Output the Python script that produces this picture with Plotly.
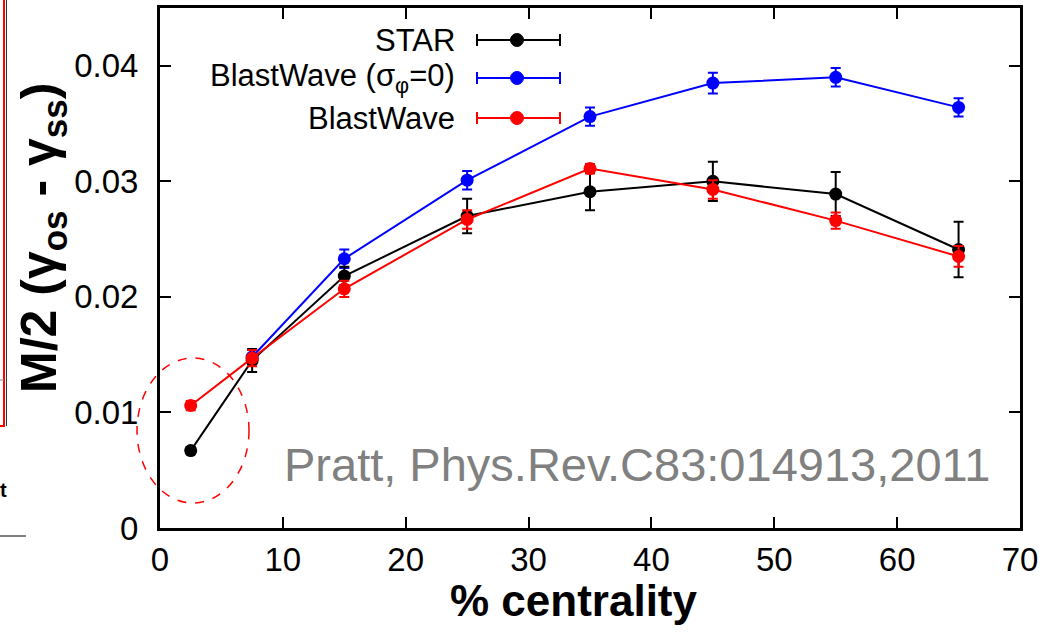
import plotly.graph_objects as go

# ---- data ----
centrality = [2.5, 7.5, 15, 25, 35, 45, 55, 65]
star_y = [0.0067, 0.0145, 0.0218, 0.0270, 0.0291, 0.0300, 0.0289, 0.0241]
star_err = [0.0003, 0.0010, 0.0008, 0.0015, 0.0016, 0.0017, 0.0019, 0.0024]

bw0_x = [7.5, 15, 25, 35, 45, 55, 65]
bw0_y = [0.0148, 0.0233, 0.0301, 0.0356, 0.0385, 0.0390, 0.0364]
bw0_err = [0.0006, 0.0008, 0.0008, 0.0008, 0.0009, 0.0008, 0.0008]

bw_y = [0.0106, 0.0147, 0.0207, 0.0267, 0.0311, 0.0293, 0.0266, 0.0235]
bw_err = [0.0004, 0.0007, 0.0007, 0.0008, 0.0004, 0.0008, 0.0007, 0.0009]

series_names = ["STAR", "BlastWave (σ<sub>φ</sub>=0)", "BlastWave"]
series_colors = ["#000000", "#0000ff", "#ff0000"]
x_ticks = [0, 10, 20, 30, 40, 50, 60, 70]
y_ticks = [0, 0.01, 0.02, 0.03, 0.04]
y_tick_text = ["0", "0.01", "0.02", "0.03", "0.04"]

FONT = "Liberation Sans, Arial, Helvetica, sans-serif"

W, H = 1044, 640
ML, MR, MT, MB = 160, 24, 8, 112
PW, PH = W - ML - MR, H - MT - MB


def px(xp):
    return (xp - ML) / PW


def py(yp):
    return (H - MB - yp) / PH


fig = go.Figure()

def add_series(x, y, err, color, name):
    fig.add_trace(go.Scatter(
        x=x, y=y, mode="lines+markers", name=name,
        line=dict(color=color, width=2),
        marker=dict(color=color, size=13, symbol="circle"),
        error_y=dict(type="data", array=err, visible=True, color=color,
                     thickness=2, width=5),
        showlegend=False,
    ))

add_series(bw0_x, bw0_y, bw0_err, series_colors[1], series_names[1])
add_series(centrality, star_y, star_err, series_colors[0], series_names[0])
add_series(centrality, bw_y, bw_err, series_colors[2], series_names[2])

shapes = []
annotations = []

# ---- custom legend ----
leg_rows = [40, 78, 118]
for name, color, yr in zip(series_names, series_colors, leg_rows):
    yc = py(yr)
    shapes.append(dict(type="line", xref="paper", yref="paper",
                       x0=px(477), x1=px(560), y0=yc, y1=yc,
                       line=dict(color=color, width=2)))
    for xe in (477, 560):
        shapes.append(dict(type="line", xref="paper", yref="paper",
                           x0=px(xe), x1=px(xe), y0=py(yr - 6), y1=py(yr + 6),
                           line=dict(color=color, width=2)))
    shapes.append(dict(type="circle", xref="paper", yref="paper",
                       xsizemode="pixel", ysizemode="pixel",
                       xanchor=px(517), yanchor=yc,
                       x0=-6.5, x1=6.5, y0=-6.5, y1=6.5,
                       fillcolor=color, line=dict(color=color, width=1)))
    annotations.append(dict(text=name, xref="paper", yref="paper",
                            x=px(457), y=yc, xanchor="right", yanchor="middle",
                            showarrow=False,
                            font=dict(family=FONT, size=31, color="#000000")))

# dashed ellipse
shapes.append(dict(type="circle", xref="paper", yref="paper",
                   x0=px(137), x1=px(249), y0=py(503), y1=py(358),
                   line=dict(color="#ff0000", width=1.5, dash="dash")))

# leftover slide edges
shapes.append(dict(type="line", xref="paper", yref="paper",
                   x0=px(4), x1=px(4), y0=py(0), y1=py(426),
                   line=dict(color="#ff0000", width=2)))
shapes.append(dict(type="line", xref="paper", yref="paper",
                   x0=px(6.5), x1=px(6.5), y0=py(0), y1=py(426),
                   line=dict(color="#333333", width=1)))
shapes.append(dict(type="line", xref="paper", yref="paper",
                   x0=px(0), x1=px(5), y0=py(426), y1=py(426),
                   line=dict(color="#ff0000", width=2)))
shapes.append(dict(type="line", xref="paper", yref="paper",
                   x0=px(0), x1=px(4), y0=py(380), y1=py(380),
                   line=dict(color="#888888", width=1)))
shapes.append(dict(type="line", xref="paper", yref="paper",
                   x0=px(0), x1=px(26), y0=py(536), y1=py(536),
                   line=dict(color="#000000", width=1)))
annotations.append(dict(text="<b>t</b>", xref="paper", yref="paper",
                        x=px(-2), y=py(490), xanchor="left", yanchor="middle",
                        showarrow=False,
                        font=dict(family=FONT, size=20, color="#000000")))

# citation
annotations.append(dict(text="Pratt, Phys.Rev.C83:014913,2011",
                        xref="paper", yref="paper", x=px(282), y=py(464),
                        xanchor="left", yanchor="middle", showarrow=False,
                        font=dict(family=FONT, size=47, color="#808080")))

# axis titles
annotations.append(dict(text="<b>M/2 (γ<sub>os</sub> - γ<sub>ss</sub>)</b>",
                        xref="paper", yref="paper", x=px(42), y=py(238),
                        xanchor="center", yanchor="middle", textangle=-90,
                        showarrow=False,
                        font=dict(family=FONT, size=50, color="#000000")))
annotations.append(dict(text="<b>% centrality</b>",
                        xref="paper", yref="paper", x=px(574), y=py(600),
                        xanchor="center", yanchor="middle", showarrow=False,
                        font=dict(family=FONT, size=44, color="#000000")))

axis_common = dict(showgrid=False, zeroline=False, showline=True,
                   linecolor="#000000", linewidth=3, mirror="ticks",
                   ticks="inside", ticklen=11, tickwidth=2, tickcolor="#000000",
                   tickfont=dict(family=FONT, size=33, color="#000000"))

fig.update_xaxes(range=[0, 70], tickvals=x_ticks,
                 ticktext=[str(t) for t in x_ticks], ticklabelstandoff=0,
                 **axis_common)
fig.update_yaxes(range=[0, 0.045], tickvals=y_ticks, ticktext=y_tick_text,
                 ticklabelstandoff=12, **axis_common)

fig.update_layout(
    width=W, height=H,
    margin=dict(l=ML, r=MR, t=MT, b=MB, autoexpand=False),
    paper_bgcolor="#ffffff", plot_bgcolor="#ffffff",
    shapes=shapes, annotations=annotations,
    showlegend=False,
)

fig.write_html(
    "out.html",
    config={"displayModeBar": False},
    post_script="document.body.style.margin='0px';document.body.style.overflow='hidden';",
)
